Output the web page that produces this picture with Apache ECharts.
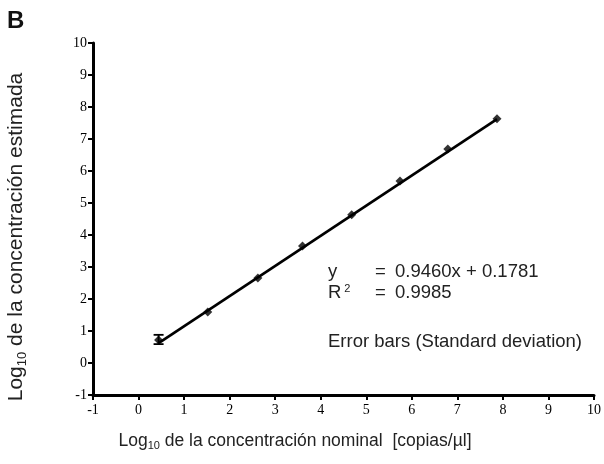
<!DOCTYPE html>
<html>
<head>
<meta charset="utf-8">
<script src="https://cdn.jsdelivr.net/npm/echarts@6/dist/echarts.min.js"></script>
<style>html,body{margin:0;padding:0;background:#fff}#c{width:604px;height:464px}</style>
</head>
<body>
<div id="c"></div>
<script>
const xNominal = [0.44, 1.52, 2.62, 3.60, 4.68, 5.74, 6.79, 7.87];
const yEstimated = [0.72, 1.59, 2.66, 3.66, 4.63, 5.69, 6.69, 7.63];
const yErrLow = [0.59, 1.55, 2.62, 3.62, 4.59, 5.65, 6.65, 7.59];
const yErrHigh = [0.88, 1.63, 2.70, 3.70, 4.67, 5.73, 6.73, 7.67];
const showErr = [true, false, false, false, false, false, false, false];
const fitLine = [[0.44, 0.62], [7.87, 7.62]];

const chart = echarts.init(document.getElementById('c'), null, {renderer: 'canvas'});
const pts = xNominal.map((x, i) => [x, yEstimated[i]]);
const errs = xNominal.map((x, i) => [x, yErrLow[i], yErrHigh[i], showErr[i] ? 1 : 0]);

const tickLabel = {fontFamily: 'Liberation Serif', fontSize: 14, color: '#000'};
const titleRich = function (size) {
  return {
    a: {fontFamily: 'Liberation Sans', fontSize: size, fill: '#222'},
    s: {fontFamily: 'Liberation Sans', fontSize: Math.round(size * 0.6), fill: '#222', verticalAlign: 'bottom', padding: [Math.round(size * 0.55), 0, 0, 0]}
  };
};
const annFont = '18.5px Liberation Sans';
chart.setOption({
  animation: false,
  grid: {left: 93, right: 9, top: 43, bottom: 69},
  xAxis: {
    type: 'value', min: -1, max: 10, interval: 1,
    axisLine: {show: true, onZero: false, lineStyle: {color: '#000', width: 3}},
    axisTick: {show: true, length: 5, lineStyle: {color: '#000', width: 2}},
    axisLabel: Object.assign({margin: 8}, tickLabel),
    splitLine: {show: false}
  },
  yAxis: {
    type: 'value', min: -1, max: 10, interval: 1,
    axisLine: {show: true, onZero: false, lineStyle: {color: '#000', width: 3}},
    axisTick: {show: true, length: 5, lineStyle: {color: '#000', width: 2}},
    axisLabel: Object.assign({margin: 6}, tickLabel),
    splitLine: {show: false}
  },
  series: [
    {
      type: 'line', data: fitLine, symbol: 'none',
      lineStyle: {color: '#000', width: 2.7}, z: 2
    },
    {
      type: 'scatter', data: pts, symbol: 'diamond', symbolSize: 9,
      itemStyle: {color: '#000'}, z: 3
    },
    {
      type: 'custom', data: errs, z: 4,
      renderItem: function (params, api) {
        if (!api.value(3)) return null;
        const x = api.value(0);
        const lo = api.coord([x, api.value(1)]);
        const hi = api.coord([x, api.value(2)]);
        const w = 5;
        const st = {stroke: '#000', lineWidth: 1.8};
        return {type: 'group', children: [
          {type: 'line', shape: {x1: lo[0], y1: lo[1], x2: hi[0], y2: hi[1]}, style: st},
          {type: 'line', shape: {x1: lo[0] - w, y1: lo[1], x2: lo[0] + w, y2: lo[1]}, style: st},
          {type: 'line', shape: {x1: hi[0] - w, y1: hi[1], x2: hi[0] + w, y2: hi[1]}, style: st}
        ]};
      }
    }
  ],
  graphic: [
    {type: 'text', left: 7, top: 9, style: {text: 'B', font: 'bold 24px Liberation Sans', fill: '#111'}},
    {type: 'text', x: 16, y: 237, rotation: Math.PI / 2, style: {
      text: '{a|Log}{s|10}{a| de la concentración estimada}', rich: titleRich(21),
      align: 'center', verticalAlign: 'middle'}},
    {type: 'text', x: 295, y: 441, style: {
      text: '{a|Log}{s|10}{a| de la concentración nominal  [copias/µl]}', rich: titleRich(17.5),
      align: 'center', verticalAlign: 'middle'}},
    {type: 'text', left: 328, top: 262, style: {text: 'y', font: annFont, fill: '#222'}},
    {type: 'text', left: 375, top: 262, style: {text: '=', font: annFont, fill: '#222'}},
    {type: 'text', left: 395, top: 262, style: {text: '0.9460x + 0.1781', font: annFont, fill: '#222'}},
    {type: 'text', left: 328, top: 283, style: {
      text: '{a|R}{s|2}', rich: {
        a: {fontFamily: 'Liberation Sans', fontSize: 18.5, fill: '#222'},
        s: {fontFamily: 'Liberation Sans', fontSize: 11, fill: '#222', verticalAlign: 'top', padding: [0, 0, 7, 3]}
      }}},
    {type: 'text', left: 375, top: 283, style: {text: '=', font: annFont, fill: '#222'}},
    {type: 'text', left: 395, top: 283, style: {text: '0.9985', font: annFont, fill: '#222'}},
    {type: 'text', left: 328, top: 332, style: {text: 'Error bars (Standard deviation)', font: annFont, fill: '#222'}}
  ]
});
</script>
</body>
</html>
